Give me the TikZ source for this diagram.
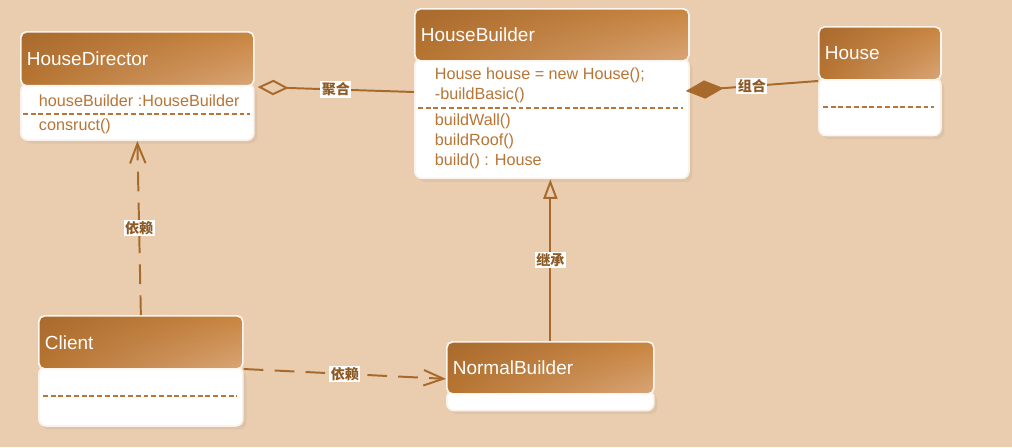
\documentclass[tikz,border=0pt]{standalone}
\usepackage{fontspec}
\setmainfont{Liberation Sans}
\newfontfamily\cjkfont{Noto Sans CJK SC}
\usetikzlibrary{calc,positioning,arrows.meta,shadows,shadings}
\definecolor{bgpeach}{HTML}{EACDAE}
\definecolor{umlline}{HTML}{A86A2C}
\definecolor{umltext}{HTML}{B87535}
\definecolor{hdrdark}{HTML}{A86A2E}
\definecolor{hdrmid}{HTML}{C9853F}
\definecolor{hdrlow}{HTML}{B7742F}
\definecolor{hdrlight}{HTML}{D9A577}
\definecolor{lbltext}{HTML}{8C5A26}

\begin{document}
\begin{tikzpicture}[x=0.025cm, y=-0.025cm, line width=1.4pt, draw=umlline,
    hdr/.style n args={2}{anchor=north west, rectangle, rounded corners=4pt, shade,
      upper left=hdrdark, upper right=hdrmid, lower left=hdrlow, lower right=hdrlight,
      draw=white!80!bgpeach, line width=1.2pt, text=white, font=\fontsize{13.5}{16}\selectfont,
      align=left, inner xsep=4.3pt, text width=#1, minimum height=#2},
    classbody/.style n args={2}{anchor=north west, rectangle, rounded corners=5pt, fill=white,
      draw=white!75!bgpeach, line width=1.2pt, inner sep=0pt, minimum width=#1, minimum height=#2,
      drop shadow={opacity=0.12, shadow xshift=2.5pt, shadow yshift=-2.5pt}},
    member/.style={anchor=west, text=umltext, font=\fontsize{11.5}{14.2}\selectfont, inner sep=0pt, align=left},
    sep/.style={dash pattern=on 3.5pt off 2pt, line width=1.1pt, draw=umltext},
    rel/.style={draw=none, fill=white, text=lbltext, font=\cjkfont\bfseries\fontsize{10}{11}\selectfont, inner sep=1pt},
    dep/.style={dash pattern=on 14pt off 8pt, -{Straight Barb[length=14pt, width=11pt]}}]

    \path[use as bounding box, fill=bgpeach] (0,0) rectangle (1012,447);

    \node[classbody={165.7pt}{40pt}] (hdBody) at (20,83) {};
    \node[hdr={157.1pt}{38.4pt}] (hdHdr) at (20,31) {HouseDirector};
    \node[member] (hdAttr) at (38,101) {houseBuilder :HouseBuilder};
    \node[member] (hdOps) at (38,126) {consruct()};
    \draw[sep] (23,114) -- (250,114);

    \node[classbody={194.9pt}{85pt}] (hbBody) at (414,58) {};
    \node[hdr={186.3pt}{37pt}] (hbHdr) at (414,8) {HouseBuilder};
    \node[member] (hbAttr) at (434,85) {House house = new House();\\-buildBasic()};
    \node[member] (hbOps) at (434,141) {buildWall()\\buildRoof()\\build() : House};
    \draw[sep] (418,108) -- (683,108);

    \node[classbody={86.8pt}{41pt}] (hsBody) at (818,77) {};
    \node[hdr={78.2pt}{37.7pt}] (hsHdr) at (818,26) {House};
    \draw[sep] (823,107) -- (934,107);

    \node[classbody={145.1pt}{42pt}] (clBody) at (38,366) {};
    \node[hdr={136.5pt}{37.7pt}] (clHdr) at (38,315) {Client};
    \draw[sep] (43,396) -- (237,396);

    \node[classbody={147.2pt}{14pt}] (nbBody) at (446,390) {};
    \node[hdr={138.6pt}{37pt}] (nbHdr) at (446,341) {NormalBuilder};

    \draw[{Diamond[open, length=22pt, width=11pt]}-] ($(hdBody.north east)+(3,4)$) -- node[rel]{聚合} ($(hbBody.north west)+(0,34)$);
    \draw[{Diamond[length=27pt, width=13pt]}-] ($(hbBody.north east)+(-4,33)$) -- node[rel]{组合} ($(hsBody.north west)+(0,4)$);
    \draw[-{Triangle[open, length=14pt, width=10pt]}] (nbHdr.north) -- node[rel]{继承} (nbHdr.north |- hbBody.south);
    \draw[dep] (clHdr.north) -- node[rel]{依赖} (hdBody.south);
    \draw[dep] ($(clBody.north east)+(0,3)$) -- node[rel]{依赖} ($(nbHdr.west)+(0,11)$);

\end{tikzpicture}
\end{document}
